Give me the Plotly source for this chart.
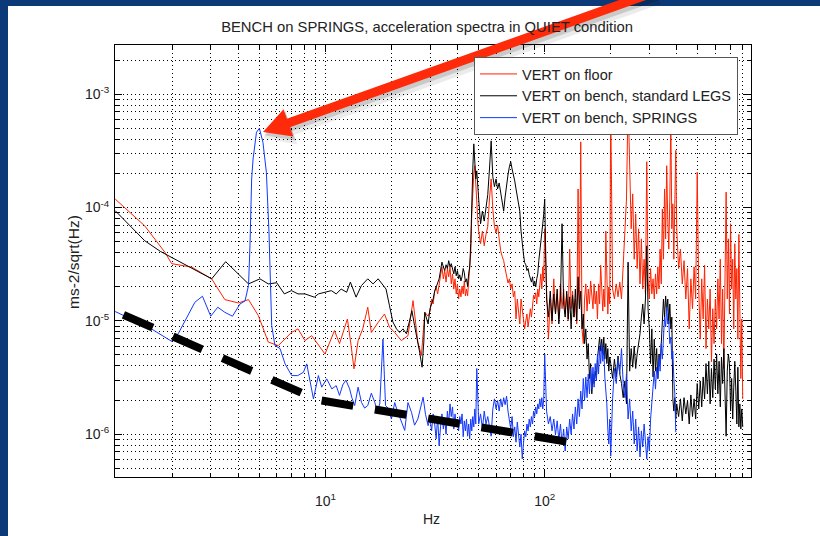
import math
import plotly.graph_objects as go

# ---------------- text ----------------
title_text = "BENCH on SPRINGS, acceleration spectra in QUIET condition"
x_label = "Hz"
y_label = "ms-2/sqrt(Hz)"
series_names = ["VERT on floor", "VERT on bench, standard LEGS", "VERT on bench, SPRINGS"]
series_colors = ["#ff2200", "#000000", "#1238ff"]

x_tick_vals = [10, 100]
x_tick_text = ["10<sup>1</sup>", "10<sup>2</sup>"]
y_tick_vals = [1e-6, 1e-5, 1e-4, 1e-3]
y_tick_text = ["10<sup>-6</sup>", "10<sup>-5</sup>", "10<sup>-4</sup>", "10<sup>-3</sup>"]
x_minor_vals = [2, 3, 4, 5, 6, 7, 8, 9, 20, 30, 40, 50, 60, 70, 80, 90,
                200, 300, 400, 500, 600, 700, 800]
y_minor_vals = [5e-7, 6e-7, 7e-7, 8e-7, 9e-7,
                2e-6, 3e-6, 4e-6, 5e-6, 6e-6, 7e-6, 8e-6, 9e-6,
                2e-5, 3e-5, 4e-5, 5e-5, 6e-5, 7e-5, 8e-5, 9e-5,
                2e-4, 3e-4, 4e-4, 5e-4, 6e-4, 7e-4, 8e-4, 9e-4, 2e-3]

# ---------------- shared frequency bins (Hz) ----------------
freq_mid = [30.0, 30.5, 31.0, 31.5, 32.0, 32.5, 33.0, 33.5, 34.0, 34.5,
            35.0, 35.5, 36.0, 36.5, 37.0, 37.5, 38.0, 38.5, 39.0, 39.5,
            40.0, 40.5, 41.0, 41.5, 42.0, 42.5, 43.0, 43.5, 44.0, 44.5,
            45.0, 45.5, 46.0, 46.5, 47.0, 47.5, 48.0, 48.5, 49.0, 49.5,
            50, 51, 52, 53, 54, 55, 56, 57, 58, 59,
            60, 61, 62, 63, 64, 65, 66, 67, 68, 69,
            70, 71, 72, 73, 74, 75, 76, 77, 78, 79,
            80, 81, 82, 83, 84, 85, 86, 87, 88, 89,
            90, 91, 92, 93, 94, 95, 96, 97, 98, 99]
freq_hi = [100, 102, 104, 106, 108, 110, 112, 114, 116, 118,
           120, 122, 124, 126, 128, 130, 132, 134, 136, 138,
           140, 142, 144, 146, 148, 150, 152, 154, 156, 158,
           160, 162, 164, 166, 168, 170, 172, 174, 176, 178,
           180, 182, 184, 186, 188, 190, 192, 194, 196, 198,
           200, 204, 208, 212, 216, 220, 224, 228, 232, 236,
           240, 244, 248, 252, 256, 260, 264, 268, 272, 276,
           280, 284, 288, 292, 296, 300, 304, 308, 312, 316,
           320, 324, 328, 332, 336, 340, 344, 348, 352, 356,
           360, 364, 368, 372, 376, 380, 384, 388, 392, 396,
           400, 408, 416, 424, 432, 440, 448, 456, 464, 472,
           480, 488, 496, 504, 512, 520, 528, 536, 544, 552,
           560, 568, 576, 584, 592, 600, 608, 616, 624, 632,
           640, 648, 656, 664, 672, 680, 688, 696, 704, 712,
           720, 728, 736, 744, 752, 760, 768, 776, 784, 792,
           800]

# ---------------- VERT on floor (red) ----------------
red_lo_f = [1.1, 1.5, 1.86, 1.99, 2.46, 3.03, 3.48, 4.01, 4.46, 4.95,
            5.49, 6.1, 7.0, 7.5, 8.07, 8.66, 9.96, 11.0, 11.6, 12.6,
            13.1, 13.5, 14.1, 14.8, 15.6, 16.2, 17.4, 18.6, 19.6, 20.7,
            22.2, 23.8, 25.1, 26.4, 27.4, 28.4, 29.4]
red_lo_v = [1.19e-4, 6.9e-5, 4.0e-5, 3.2e-5, 2.98e-5, 2.35e-5, 1.54e-5, 1.44e-5, 1.54e-5, 1.11e-5,
            6.5e-6, 6.05e-6, 7.9e-6, 8.5e-6, 6.7e-6, 7.4e-6, 5.1e-6, 8.2e-6, 6.3e-6, 1.04e-5,
            6.05e-6, 3.77e-6, 6.7e-6, 8.5e-6, 1.32e-5, 7.9e-6, 9.7e-6, 1.15e-5, 8.8e-6, 7.9e-6,
            6.7e-6, 7.4e-6, 1.51e-5, 6.5e-6, 4.95e-6, 1.19e-5, 1.1e-5]
red_mid = [1.22e-5, 1.56e-5, 1.41e-5, 1.83e-5, 1.99e-5, 1.73e-5, 2.12e-5, 2.6e-5, 3.0e-5, 2.35e-5,
           2.78e-5, 2.2e-5, 2.9e-5, 2.45e-5, 3.0e-5, 2.12e-5, 2.6e-5, 1.91e-5, 2.35e-5, 1.73e-5,
           2.12e-5, 1.56e-5, 1.91e-5, 1.63e-5, 2.03e-5, 1.73e-5, 2.25e-5, 1.66e-5, 1.91e-5, 1.66e-5,
           2.12e-5, 2.6e-5, 3.9e-5, 8.8e-5, 1.46e-4, 1.98e-4, 2.34e-4, 1.46e-4, 1.08e-4, 7.9e-5,
           6.2e-5, 4.8e-5, 6.2e-5, 4.6e-5, 5.8e-5, 6.8e-5, 1.19e-4, 1.79e-4, 9.7e-5, 6.8e-5,
           6.0e-5, 7.0e-5, 5.3e-5, 4.15e-5, 3.7e-5, 3.4e-5, 2.9e-5, 2.55e-5, 2.16e-5, 2.35e-5,
           1.91e-5, 2.12e-5, 1.63e-5, 1.83e-5, 1.04e-5, 1.56e-5, 1.13e-5, 9.4e-6, 1.56e-5, 1.22e-5,
           1.08e-5, 8.5e-6, 1.0e-5, 1.15e-5, 8.85e-6, 1.08e-5, 1.28e-5, 1.08e-5, 1.41e-5, 1.69e-5,
           1.56e-5, 1.77e-5, 1.41e-5, 1.91e-5, 1.63e-5, 2.12e-5, 2.6e-5, 1.91e-5, 3.0e-5, 2.25e-5]
red_hi = [6.5e-5, 1.91e-5, 6.9e-6, 1.56e-5, 9.4e-6, 2.35e-5, 1.15e-5, 1.73e-5, 1.04e-5, 2.12e-5,
          1.28e-5, 1.91e-5, 1.15e-5, 1.73e-5, 1.0e-5, 4.3e-5, 1.28e-5, 1.83e-5, 1.08e-5, 1.56e-5,
          9.4e-6, 1.46e-4, 1.28e-5, 3.8e-4, 8.5e-6, 6.3e-6, 1.56e-5, 2.12e-5, 1.22e-5, 1.91e-5,
          1.41e-5, 2.25e-5, 1.56e-5, 1.28e-5, 2.12e-5, 1.41e-5, 1.83e-5, 1.04e-5, 2.12e-5, 1.41e-5,
          3.1e-5, 1.56e-5, 1.22e-5, 1.91e-5, 1.33e-5, 6.2e-5, 1.73e-5, 1.15e-5, 1.99e-5, 1.41e-5,
          8.0e-4, 1.91e-5, 1.56e-5, 2.12e-5, 1.63e-5, 2.2e-5, 1.56e-5, 2.9e-5, 5.3e-5, 1.19e-4,
          9.0e-4, 1.79e-4, 6.5e-5, 1.32e-4, 3.5e-5, 8.8e-5, 2.9e-5, 6.5e-5, 2.12e-5, 5.3e-5,
          1.91e-5, 3.5e-5, 1.73e-5, 2.54e-4, 2.35e-5, 1.56e-5, 2.9e-5, 1.73e-5, 2.35e-5, 1.56e-5,
          2.6e-5, 1.73e-5, 3.0e-5, 1.91e-5, 4.3e-5, 2.12e-5, 9.7e-5, 3.5e-5, 1.46e-4, 5.3e-5,
          2.34e-4, 7.9e-5, 4.3e-5, 1.19e-4, 6.0e-4, 6.5e-5, 1.08e-4, 3.5e-5, 8.8e-5, 3.2e-4,
          6.5e-5, 2.9e-5, 4.3e-5, 2.12e-5, 3.4e-5, 1.56e-5, 2.9e-5, 8.5e-6, 2.35e-5, 1.28e-5,
          3.0e-5, 1.56e-5, 2.05e-4, 1.91e-5, 6.9e-6, 2.35e-5, 1.04e-5, 3.1e-5, 5.7e-6, 1.56e-5,
          8.5e-6, 1.91e-5, 4.35e-6, 1.28e-5, 6.3e-6, 1.56e-5, 8.5e-6, 2.35e-5, 1.04e-5, 3.5e-5,
          6.3e-6, 1.91e-5, 3.8e-6, 4.3e-5, 1.37e-4, 1.56e-5, 5.3e-5, 1.15e-5, 7.2e-5, 1.91e-5,
          3.5e-5, 8.5e-6, 4.8e-5, 1.56e-5, 2.9e-5, 6.9e-6, 5.8e-5, 1.28e-5, 3.1e-6, 1.04e-5,
          2.05e-6]

# ---------------- VERT on bench, standard LEGS (black) ----------------
black_lo_f = [1.1, 1.5, 1.77, 2.29, 3.03, 3.51, 4.08, 4.46, 5.03, 5.49,
              6.0, 6.5, 7.0, 7.5, 8.07, 8.5, 8.9, 9.3, 10.0, 10.65,
              11.2, 11.8, 12.5, 13.0, 13.8, 14.6, 15.6, 16.5, 17.4, 18.3,
              18.9, 19.6, 20.3, 21.1, 21.8, 22.6, 23.4, 24.2, 24.8, 25.5,
              26.4, 26.9, 27.6, 28.1, 28.4, 29.4]
black_lo_v = [9.4e-5, 5.1e-5, 4.1e-5, 3.12e-5, 2.35e-5, 3.33e-5, 2.51e-5, 2.12e-5, 2.35e-5, 2.12e-5,
              2.17e-5, 1.73e-5, 1.85e-5, 1.73e-5, 1.73e-5, 1.67e-5, 1.62e-5, 1.73e-5, 1.8e-5, 1.85e-5,
              1.73e-5, 1.91e-5, 1.79e-5, 2.2e-5, 1.62e-5, 2.05e-5, 2.35e-5, 2.12e-5, 2.35e-5, 2.05e-5,
              1.91e-5, 1.36e-5, 9.8e-6, 8.5e-6, 7.9e-6, 8.5e-6, 7.7e-6, 1.0e-5, 1.23e-5, 9.1e-6,
              6.5e-6, 5.3e-6, 3.9e-6, 6.5e-6, 1.19e-5, 9.4e-6]
black_mid = [1.28e-5, 1.41e-5, 1.56e-5, 1.83e-5, 2.03e-5, 2.16e-5, 2.35e-5, 2.9e-5, 3.3e-5, 3.0e-5,
             2.78e-5, 3.13e-5, 2.9e-5, 3.4e-5, 3.0e-5, 3.2e-5, 2.9e-5, 2.6e-5, 3.0e-5, 2.5e-5,
             2.78e-5, 2.35e-5, 2.55e-5, 2.25e-5, 2.45e-5, 2.9e-5, 2.66e-5, 2.2e-5, 2.35e-5, 2.03e-5,
             2.6e-5, 3.0e-5, 4.8e-5, 1.19e-4, 2.19e-4, 3.65e-4, 2.43e-4, 1.79e-4, 2.11e-4, 1.46e-4,
             1.19e-4, 7.2e-5, 9.3e-5, 7.6e-5, 1.02e-4, 1.30e-4, 2.19e-4, 3.88e-4, 1.87e-4, 1.53e-4,
             1.79e-4, 1.46e-4, 1.65e-4, 1.38e-4, 1.19e-4, 9.3e-5, 1.24e-4, 1.62e-4, 1.94e-4, 2.29e-4,
             2.54e-4, 2.19e-4, 1.98e-4, 1.72e-4, 1.46e-4, 1.24e-4, 1.08e-4, 9.3e-5, 6.2e-5, 4.5e-5,
             3.9e-5, 3.27e-5, 3.13e-5, 2.78e-5, 2.9e-5, 2.55e-5, 2.35e-5, 2.2e-5, 2.45e-5, 2.03e-5,
             2.25e-5, 1.99e-5, 2.35e-5, 2.6e-5, 3.4e-5, 4.3e-5, 5.1e-5, 5.8e-5, 7.2e-5, 8.8e-5]
black_hi = [1.19e-4, 1.56e-5, 1.08e-5, 1.83e-5, 1.0e-5, 1.73e-5, 1.15e-5, 1.91e-5, 9.4e-6, 1.56e-5,
            7.2e-5, 1.41e-5, 1.08e-5, 1.83e-5, 1.04e-5, 1.63e-5, 8.5e-6, 1.69e-5, 1.08e-5, 1.91e-5,
            1.0e-5, 2.45e-5, 1.28e-5, 1.83e-5, 8.5e-6, 1.15e-5, 6.3e-6, 8.5e-6, 4.6e-6, 6.3e-6,
            3.1e-6, 4.2e-6, 2.27e-6, 3.4e-6, 2.8e-6, 3.6e-6, 3.1e-6, 4.6e-6, 6.3e-6, 7.2e-6,
            5.4e-6, 6.9e-6, 5.1e-6, 7.2e-6, 4.6e-6, 6.3e-6, 4.2e-6, 5.7e-6, 3.6e-6, 4.8e-6,
            4.2e-6, 3.1e-6, 4.6e-6, 3.2e-6, 4.9e-6, 3.4e-6, 2.8e-6, 2.1e-6, 2.95e-6, 1.85e-6,
            3.3e-5, 3.6e-6, 5.7e-6, 3.9e-6, 6.0e-6, 3.8e-6, 5.1e-6, 6.3e-6, 7.7e-6, 1.08e-5,
            1.41e-5, 9.4e-6, 1.56e-5, 4.6e-5, 1.28e-5, 8.5e-6, 4.2e-6, 8.5e-6, 3.2e-6, 6.9e-6,
            3.6e-6, 5.7e-6, 3.1e-6, 5.1e-6, 4.2e-6, 6.3e-6, 9.4e-6, 1.56e-5, 1.08e-5, 1.66e-5,
            1.22e-5, 1.56e-5, 9.4e-6, 1.41e-5, 8.5e-6, 1.08e-5, 2.05e-6, 1.6e-6, 2.1e-6, 1.36e-6,
            1.85e-6, 1.43e-6, 2.05e-6, 1.31e-6, 2.1e-6, 1.51e-6, 1.98e-6, 1.23e-6, 2.22e-6, 1.43e-6,
            2.05e-6, 1.36e-6, 2.8e-6, 1.67e-6, 2.95e-6, 1.74e-6, 3.2e-6, 2.05e-6, 4.2e-6, 2.27e-6,
            4.4e-6, 1.85e-6, 3.8e-6, 2.1e-6, 4.6e-6, 2.5e-6, 5.1e-6, 2.27e-6, 4.4e-6, 1.74e-6,
            4.8e-6, 2.8e-6, 5.7e-6, 2.05e-6, 9.6e-7, 3.6e-6, 5.1e-6, 4.2e-6, 1.6e-6, 3.1e-6,
            1.36e-6, 2.6e-6, 4.4e-6, 2.4e-6, 1.23e-6, 3.9e-6, 1.16e-6, 1.85e-6, 1.11e-6, 1.67e-6,
            1.16e-6]

# ---------------- VERT on bench, SPRINGS (blue) ----------------
blue_lo_f = [1.1, 1.61, 1.99, 2.14, 2.54, 2.75, 3.0, 3.23, 3.48, 3.77,
             4.08, 4.3, 4.46, 4.53, 4.61, 4.68, 4.85, 5.0, 5.19, 5.38,
             5.53, 5.69, 5.89, 6.21, 6.55, 7.02, 7.48, 7.94, 8.22, 8.82,
             9.29, 9.62, 10.14, 10.7, 11.2, 11.6, 12.0, 12.4, 12.9, 13.2,
             13.6, 14.1, 14.6, 15.1, 15.6, 16.2, 16.8, 17.2, 17.7, 18.3,
             18.8, 19.3, 20.0, 20.7, 21.4, 22.2, 23.0, 23.8, 24.7, 25.5,
             26.4, 27.9, 28.6, 29.4]
blue_lo_v = [1.21e-5, 8.5e-6, 6.6e-6, 7.8e-6, 1.46e-5, 1.65e-5, 1.1e-5, 1.32e-5, 1.19e-5, 1.1e-5,
             1.41e-5, 1.5e-5, 2.05e-5, 4.6e-5, 1.79e-4, 2.69e-4, 4.63e-4, 5.0e-4, 3.78e-4, 2.05e-4,
             6.1e-5, 9.1e-6, 6.05e-6, 5.7e-6, 4.17e-6, 3.29e-6, 3.29e-6, 3.52e-6, 4.17e-6, 2.05e-6,
             3.29e-6, 2.6e-6, 3.08e-6, 2.51e-6, 2.68e-6, 2.2e-6, 2.72e-6, 3.0e-6, 2.51e-6, 2.1e-6,
             1.79e-6, 2.6e-6, 1.91e-6, 1.7e-6, 1.79e-6, 2.3e-6, 1.91e-6, 1.6e-6, 1.85e-6, 6.9e-6,
             1.79e-6, 1.7e-6, 1.36e-6, 1.9e-6, 1.56e-6, 1.3e-6, 1.08e-6, 1.9e-6, 1.56e-6, 1.2e-6,
             1.36e-6, 2.12e-6, 1.5e-6, 1.19e-6]
blue_mid = [1.36e-6, 1.07e-6, 1.51e-6, 1.23e-6, 9.1e-7, 1.43e-6, 7.9e-7, 1.16e-6, 1.51e-6, 1.11e-6,
            1.36e-6, 1.0e-6, 1.6e-6, 1.23e-6, 1.85e-6, 1.43e-6, 1.74e-6, 1.11e-6, 1.51e-6, 1.16e-6,
            1.36e-6, 1.07e-6, 1.43e-6, 1.23e-6, 1.51e-6, 9.5e-7, 1.31e-6, 1.07e-6, 1.36e-6, 9.6e-7,
            1.23e-6, 9.1e-7, 1.36e-6, 1.07e-6, 1.43e-6, 1.16e-6, 1.67e-6, 1.23e-6, 3.8e-6, 2.27e-6,
            1.23e-6, 1.51e-6, 1.11e-6, 1.6e-6, 1.23e-6, 1.43e-6, 1.11e-6, 9.6e-7, 1.67e-6, 2.05e-6,
            1.67e-6, 1.98e-6, 1.6e-6, 2.05e-6, 1.74e-6, 2.1e-6, 1.82e-6, 2.17e-6, 1.6e-6, 1.31e-6,
            1.11e-6, 1.43e-6, 9.5e-7, 1.16e-6, 8.5e-7, 1.28e-6, 9.1e-7, 7.7e-7, 1.0e-6, 6.05e-7,
            8.2e-7, 1.07e-6, 9.5e-7, 1.23e-6, 1.07e-6, 1.36e-6, 1.16e-6, 1.43e-6, 1.23e-6, 1.6e-6,
            1.43e-6, 1.74e-6, 1.51e-6, 1.85e-6, 1.67e-6, 2.05e-6, 1.74e-6, 2.1e-6, 1.67e-6, 2.05e-6]
blue_hi = [5.1e-6, 1.6e-6, 1.23e-6, 1.43e-6, 1.07e-6, 1.36e-6, 9.9e-7, 1.31e-6, 8.8e-7, 1.23e-6,
           8.1e-7, 1.11e-6, 7.1e-7, 1.16e-6, 9.1e-7, 1.36e-6, 1.0e-6, 1.51e-6, 1.11e-6, 1.74e-6,
           1.23e-6, 2.05e-6, 1.43e-6, 2.4e-6, 1.67e-6, 3.1e-6, 1.98e-6, 3.2e-6, 2.1e-6, 3.4e-6,
           2.27e-6, 3.8e-6, 2.5e-6, 3.9e-6, 2.6e-6, 4.2e-6, 2.95e-6, 5.1e-6, 3.4e-6, 5.9e-6,
           4.2e-6, 6.3e-6, 4.4e-6, 5.7e-6, 3.2e-6, 2.4e-6, 1.85e-6, 1.11e-6, 8.2e-7, 1.36e-6,
           6.4e-7, 2.05e-6, 3.8e-6, 2.8e-6, 4.6e-6, 3.4e-6, 5.7e-6, 2.8e-6, 2.1e-6, 3.4e-6,
           1.36e-6, 2.05e-6, 1.07e-6, 1.6e-6, 8.2e-7, 1.36e-6, 7.1e-7, 1.16e-6, 6.3e-7, 1.07e-6,
           7.7e-7, 1.23e-6, 9.1e-7, 6.05e-7, 9.5e-7, 7.1e-7, 1.36e-6, 2.05e-6, 2.8e-6, 3.6e-6,
           2.5e-6, 3.9e-6, 3.1e-6, 4.8e-6, 3.6e-6, 6.3e-6, 4.6e-6, 8.5e-6, 1.08e-5, 8.85e-6,
           1.33e-5, 9.4e-6, 1.0e-5, 6.3e-6, 7.2e-6, 4.6e-6, 5.4e-6, 3.1e-6, 2.27e-6, 1.04e-6]

# ---------------- hand-drawn floor trend (thick dashed) ----------------
trend_f = [1.2, 9.2, 125.6]
trend_v = [1.13e-5, 2.01e-6, 8.6e-7]

# ---------------- geometry ----------------
W, H = 820, 536
ML, MR, MT, MB = 115, 69, 45, 59
PW, PH = W - ML - MR, H - MT - MB
FONT = "Liberation Sans, Arial, sans-serif"
TXT = "#222222"
SLIDE = "#0c3977"
ARROW_RED = "#ff2a0a"

def px_x(p):
    return (p - ML) / PW

def px_y(p):
    return (H - MB - p) / PH

fig = go.Figure()
series = [
    (red_lo_f + freq_mid + freq_hi, red_lo_v + red_mid + red_hi),
    (black_lo_f + freq_mid + freq_hi, black_lo_v + black_mid + black_hi),
    (blue_lo_f + freq_mid + freq_hi[:len(blue_hi)], blue_lo_v + blue_mid + blue_hi),
]
for (fx, vy), name, col in zip(series, series_names, series_colors):
    fig.add_trace(go.Scatter(x=fx, y=vy, mode="lines", name=name,
                             line=dict(color=col, width=1)))

fig.add_trace(go.Scatter(x=trend_f, y=trend_v, mode="lines", showlegend=False,
                         hoverinfo="skip",
                         line=dict(color="#000000", width=8, dash="32px,22px")))

grid = dict(showgrid=True, gridcolor="#000000", gridwidth=1, griddash="1px,3px")
axis_common = dict(type="log", showline=True, linecolor="#000000", linewidth=1,
                   mirror="allticks", ticks="inside", ticklen=7, tickcolor="#000000",
                   automargin=False,
                   tickfont=dict(family=FONT, size=14, color=TXT), zeroline=False, **grid)

fig.update_xaxes(range=[0.0406, 0.0406 + PW / 219.3], tickmode="array",
                 tickvals=x_tick_vals, ticktext=x_tick_text, ticklabelstandoff=11,
                 minor=dict(tickmode="array", tickvals=x_minor_vals, ticks="inside", ticklen=4,
                            tickcolor="#000000", **grid),
                 **axis_common)
fig.update_yaxes(range=[-2.565 - PH / 113.3, -2.565], tickmode="array",
                 tickvals=y_tick_vals, ticktext=y_tick_text, ticklabelstandoff=2,
                 minor=dict(tickmode="array", tickvals=y_minor_vals, ticks="inside", ticklen=4,
                            tickcolor="#000000", **grid),
                 **axis_common)

# axis titles placed as real text at the reference positions
fig.add_annotation(text=x_label, xref="paper", yref="paper", x=px_x(431), y=px_y(519),
                   xanchor="center", yanchor="middle", showarrow=False,
                   font=dict(family=FONT, size=14, color=TXT))
fig.add_annotation(text=y_label, xref="paper", yref="paper", x=px_x(73), y=px_y(262),
                   xanchor="center", yanchor="middle", showarrow=False, textangle=-90,
                   font=dict(family=FONT, size=15.5, color=TXT))

# ---------------- overlay: slide border + red call-out arrow (pixel geometry) ----------------
shapes = [
    dict(type="rect", xref="paper", yref="paper", layer="below",
         x0=px_x(0), x1=px_x(W), y0=px_y(6), y1=px_y(0),
         fillcolor=SLIDE, line=dict(width=0)),
    dict(type="rect", xref="paper", yref="paper", layer="below",
         x0=px_x(0), x1=px_x(8), y0=px_y(H), y1=px_y(0),
         fillcolor=SLIDE, line=dict(width=0)),
]
tip = (263.0, 132.0)
tail = (655.0, -8.0)
L = math.hypot(tail[0] - tip[0], tail[1] - tip[1])
ux, uy = (tail[0] - tip[0]) / L, (tail[1] - tip[1]) / L
nx, ny = -uy, ux
head_len, head_half, shaft_w = 27.0, 14.5, 9

def arrow_shapes(dx, dy, color, extra):
    t = (tip[0] + dx, tip[1] + dy)
    base = (t[0] + ux * head_len, t[1] + uy * head_len)
    inner = (t[0] + ux * (head_len - 3), t[1] + uy * (head_len - 3))
    hh = head_half + extra / 2
    p1 = (base[0] + nx * hh, base[1] + ny * hh)
    p2 = (base[0] - nx * hh, base[1] - ny * hh)
    tipx = (t[0] - ux * extra / 2, t[1] - uy * extra / 2)
    path = "M {:.5f},{:.5f} L {:.5f},{:.5f} L {:.5f},{:.5f} Z".format(
        px_x(tipx[0]), px_y(tipx[1]), px_x(p1[0]), px_y(p1[1]), px_x(p2[0]), px_y(p2[1]))
    return [
        dict(type="line", xref="paper", yref="paper", layer="above",
             x0=px_x(tail[0] + dx), y0=px_y(tail[1] + dy), x1=px_x(inner[0]), y1=px_y(inner[1]),
             line=dict(color=color, width=shaft_w + extra)),
        dict(type="path", xref="paper", yref="paper", layer="above", path=path,
             fillcolor=color, line=dict(width=0)),
    ]

shapes += arrow_shapes(3, 5, "rgba(0,0,0,0.08)", 6)
shapes += arrow_shapes(2, 3, "rgba(0,0,0,0.14)", 2)
shapes += arrow_shapes(0, 0, ARROW_RED, 0)

fig.update_layout(
    width=W, height=H,
    margin=dict(l=ML, r=MR, t=MT, b=MB, pad=0, autoexpand=False),
    paper_bgcolor="#ffffff", plot_bgcolor="#ffffff",
    font=dict(family=FONT, color=TXT),
    title=dict(text=title_text, x=427 / W, xref="container", xanchor="center",
               y=1 - 27 / H, yref="container", yanchor="middle",
               font=dict(family=FONT, size=14.8, color=TXT)),
    legend=dict(x=px_x(738), y=px_y(57), xanchor="right", yanchor="top",
                bgcolor="#ffffff", bordercolor="#555555", borderwidth=1, itemwidth=37,
                font=dict(family=FONT, size=14.5, color=TXT)),
    shapes=shapes,
    showlegend=True,
)

fig.write_html("out.html")
